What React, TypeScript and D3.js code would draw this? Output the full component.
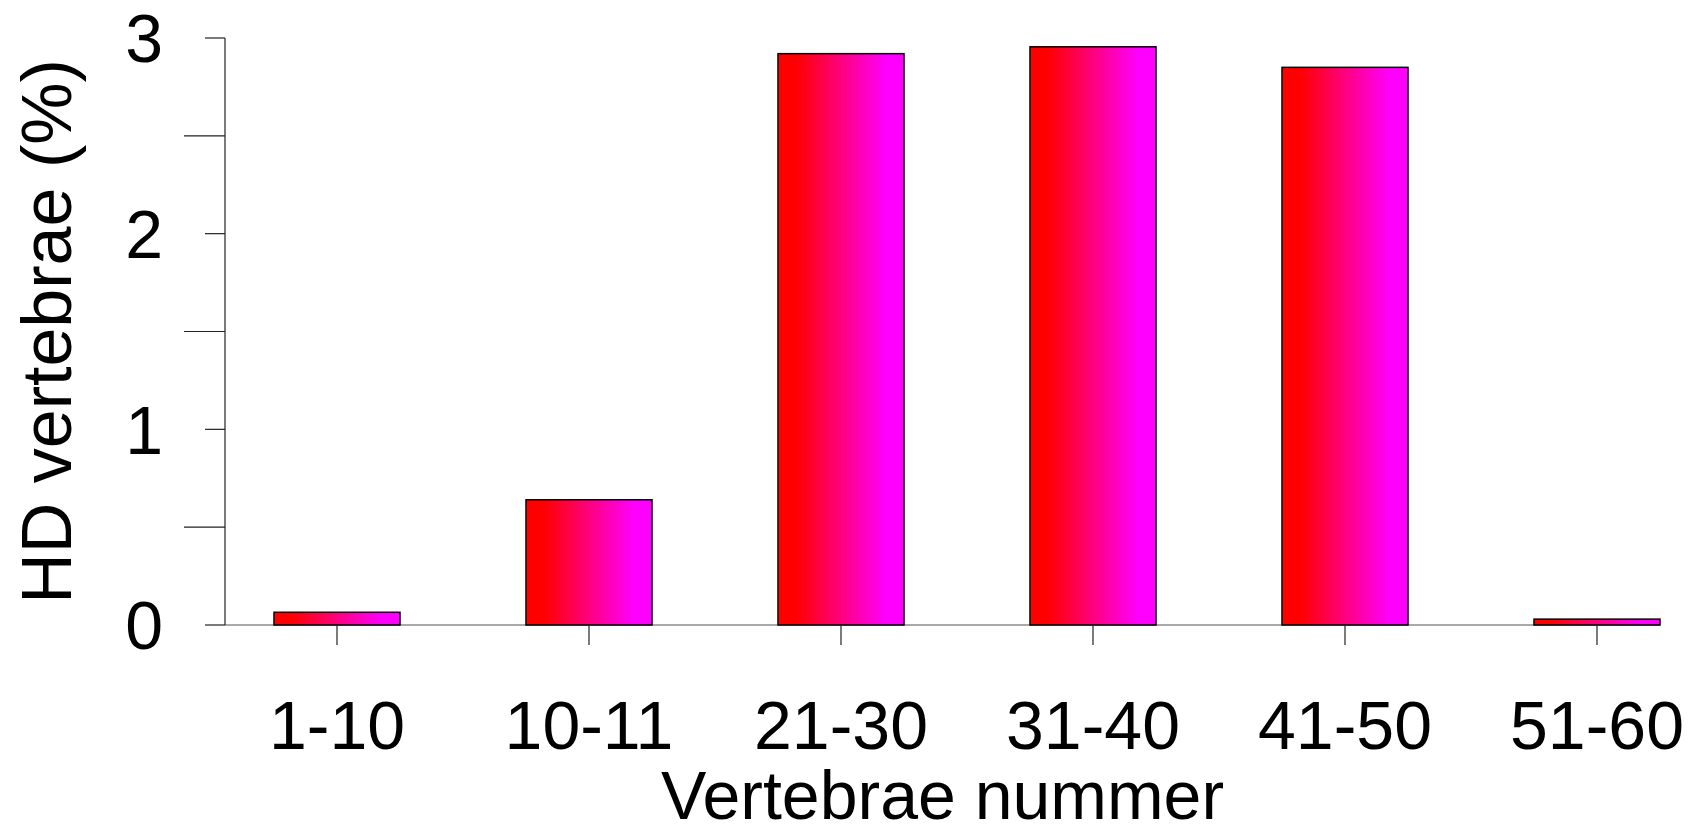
import * as d3 from 'd3';
import { useEffect, useRef } from 'react';

const categories = ['1-10', '10-11', '21-30', '31-40', '41-50', '51-60'];
const values = [0.065, 0.64, 2.92, 2.955, 2.85, 0.03];
const majorTicks = [0, 1, 2, 3];
const minorTicks = [0.5, 1.5, 2.5];
const xTitle = 'Vertebrae nummer';
const yTitle = 'HD vertebrae (%)';

const App = () => {
  const svgRef = useRef<SVGSVGElement | null>(null);

  useEffect(() => {
    document.body.style.margin = '0';
    if (!svgRef.current) return;

    const width = 1699;
    const height = 834;
    const font = '"Liberation Sans", Arial, sans-serif';

    const svg = d3.select(svgRef.current)
      .html('')
      .attr('width', width)
      .attr('height', height)
      .style('display', 'block')
      .style('background', '#fff');

    const xScale = d3.scaleBand<string>()
      .domain(categories)
      .range([211, 1723])
      .paddingInner(0.5)
      .paddingOuter(0.25);

    const yScale = d3.scaleLinear()
      .domain([0, 3])
      .range([625, 38]);

    const axisX = 225;

    // red -> magenta gradient for the bars
    const grad = svg.append('defs')
      .append('linearGradient')
      .attr('id', 'barGrad')
      .attr('x1', '0%').attr('x2', '100%')
      .attr('y1', '0%').attr('y2', '0%');
    grad.append('stop').attr('offset', '0%').attr('stop-color', '#ff0000');
    grad.append('stop').attr('offset', '14%').attr('stop-color', '#ff0000');
    grad.append('stop').attr('offset', '86%').attr('stop-color', '#ff00ff');
    grad.append('stop').attr('offset', '100%').attr('stop-color', '#ff00ff');

    // baseline
    const lastBand = xScale(categories[categories.length - 1])! + xScale.bandwidth();
    svg.append('line')
      .attr('x1', axisX).attr('x2', lastBand)
      .attr('y1', yScale(0)).attr('y2', yScale(0))
      .attr('stroke', '#555')
      .attr('stroke-width', 1.2);

    // bars
    svg.selectAll('.bar')
      .data(values)
      .enter().append('rect')
      .attr('class', 'bar')
      .attr('x', (d, i) => xScale(categories[i])!)
      .attr('y', d => yScale(d))
      .attr('width', xScale.bandwidth())
      .attr('height', d => yScale(0) - yScale(d))
      .attr('fill', 'url(#barGrad)')
      .attr('stroke', '#000')
      .attr('stroke-width', 1.5);

    // Y axis
    svg.append('line')
      .attr('x1', axisX).attr('x2', axisX)
      .attr('y1', yScale(3)).attr('y2', yScale(0))
      .attr('stroke', '#222')
      .attr('stroke-width', 1.2);

    svg.selectAll('.ytick')
      .data(majorTicks)
      .enter().append('line')
      .attr('x1', axisX - 20).attr('x2', axisX)
      .attr('y1', d => yScale(d)).attr('y2', d => yScale(d))
      .attr('stroke', '#222')
      .attr('stroke-width', 1.2);

    svg.selectAll('.yminor')
      .data(minorTicks)
      .enter().append('line')
      .attr('x1', axisX - 41).attr('x2', axisX)
      .attr('y1', d => yScale(d)).attr('y2', d => yScale(d))
      .attr('stroke', '#222')
      .attr('stroke-width', 1.2);

    svg.selectAll('.ylabel')
      .data(majorTicks)
      .enter().append('text')
      .attr('x', 163)
      .attr('y', d => yScale(d))
      .attr('dy', '0.36em')
      .attr('text-anchor', 'end')
      .style('font-family', font)
      .style('font-size', '68px')
      .attr('fill', '#000')
      .text(d => d);

    // X ticks and labels
    svg.selectAll('.xtick')
      .data(categories)
      .enter().append('line')
      .attr('x1', d => xScale(d)! + xScale.bandwidth() / 2)
      .attr('x2', d => xScale(d)! + xScale.bandwidth() / 2)
      .attr('y1', yScale(0)).attr('y2', yScale(0) + 20)
      .attr('stroke', '#222')
      .attr('stroke-width', 1.2);

    svg.selectAll('.xlabel')
      .data(categories)
      .enter().append('text')
      .attr('x', d => xScale(d)! + xScale.bandwidth() / 2)
      .attr('y', 749)
      .attr('text-anchor', 'middle')
      .style('font-family', font)
      .style('font-size', '68px')
      .attr('fill', '#000')
      .text(d => d);

    // Axis titles
    svg.append('text')
      .attr('x', (axisX + lastBand) / 2)
      .attr('y', 819)
      .attr('text-anchor', 'middle')
      .style('font-family', font)
      .style('font-size', '68px')
      .attr('fill', '#000')
      .text(xTitle);

    svg.append('text')
      .attr('transform', `translate(71,${(yScale(0) + yScale(3)) / 2}) rotate(-90)`)
      .attr('text-anchor', 'middle')
      .style('font-family', font)
      .style('font-size', '70px')
      .attr('fill', '#000')
      .text(yTitle);
  }, []);

  return <svg ref={svgRef} />;
};

export default App;
